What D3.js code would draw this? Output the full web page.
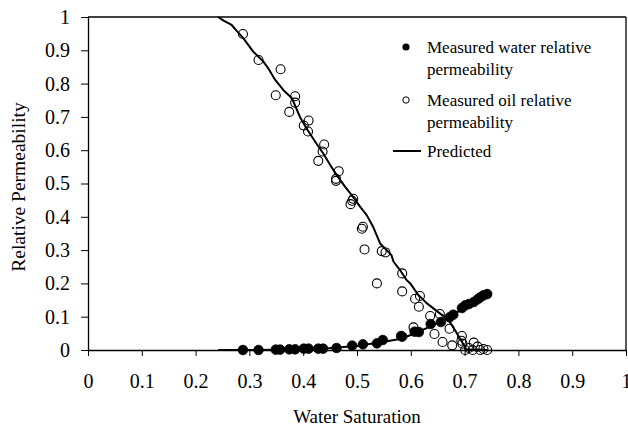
<!DOCTYPE html>
<html>
<head>
<meta charset="utf-8">
<script src="https://cdn.jsdelivr.net/npm/d3@7"></script>
<style>
  html, body { margin: 0; padding: 0; background: #fff; }
  svg { display: block; }
  text { font-family: "Liberation Serif", "Times New Roman", serif; fill: #000; }
</style>
</head>
<body>
<svg id="chart" width="628" height="428"></svg>
<script>
// ---- data ----
const xTicks = [0, 0.1, 0.2, 0.3, 0.4, 0.5, 0.6, 0.7, 0.8, 0.9, 1];
const yTicks = [0, 0.1, 0.2, 0.3, 0.4, 0.5, 0.6, 0.7, 0.8, 0.9, 1];

const waterSw = [0.288, 0.317, 0.349, 0.357, 0.374, 0.385, 0.401, 0.410, 0.428, 0.437, 0.462, 0.491, 0.511, 0.537, 0.548, 0.582, 0.584, 0.607, 0.615, 0.637, 0.656, 0.672, 0.679, 0.695, 0.701, 0.708, 0.717, 0.724, 0.729, 0.735, 0.742];
const waterKr = [0.000, 0.000, 0.001, 0.001, 0.002, 0.002, 0.004, 0.004, 0.004, 0.004, 0.006, 0.013, 0.017, 0.020, 0.030, 0.042, 0.040, 0.055, 0.054, 0.078, 0.084, 0.098, 0.106, 0.126, 0.134, 0.138, 0.144, 0.152, 0.158, 0.164, 0.168];

const oilSw = [0.288, 0.317, 0.358, 0.349, 0.385, 0.385, 0.374, 0.410, 0.401, 0.409, 0.439, 0.436, 0.428, 0.466, 0.461, 0.461, 0.493, 0.488, 0.491, 0.511, 0.509, 0.514, 0.546, 0.553, 0.537, 0.584, 0.584, 0.617, 0.608, 0.615, 0.636, 0.654, 0.605, 0.644, 0.672, 0.659, 0.677, 0.695, 0.694, 0.696, 0.701, 0.708, 0.717, 0.715, 0.724, 0.729, 0.735, 0.742];
const oilKr = [0.949, 0.871, 0.843, 0.765, 0.762, 0.743, 0.715, 0.689, 0.674, 0.656, 0.617, 0.596, 0.568, 0.537, 0.514, 0.508, 0.454, 0.438, 0.448, 0.370, 0.364, 0.302, 0.297, 0.293, 0.200, 0.230, 0.176, 0.162, 0.154, 0.130, 0.102, 0.108, 0.068, 0.048, 0.064, 0.024, 0.014, 0.042, 0.028, 0.019, 0.000, 0.006, 0.022, 0.000, 0.010, 0.000, 0.003, 0.000];

const predOilSw = [0.242, 0.252, 0.267, 0.276, 0.289, 0.307, 0.326, 0.335, 0.348, 0.363, 0.379, 0.394, 0.406, 0.422, 0.437, 0.450, 0.462, 0.478, 0.493, 0.506, 0.518, 0.530, 0.543, 0.555, 0.564, 0.568, 0.580, 0.592, 0.599, 0.614, 0.630, 0.654, 0.670, 0.682, 0.695, 0.703, 0.742];
const predOilKr = [1.000, 0.989, 0.976, 0.959, 0.936, 0.896, 0.866, 0.846, 0.811, 0.781, 0.756, 0.700, 0.666, 0.626, 0.591, 0.556, 0.526, 0.490, 0.459, 0.430, 0.405, 0.370, 0.320, 0.300, 0.285, 0.265, 0.240, 0.210, 0.200, 0.165, 0.140, 0.110, 0.090, 0.060, 0.025, 0.002, 0.000];

const predWaterSw = [0.242, 0.300, 0.350, 0.400, 0.450, 0.500, 0.550, 0.580, 0.600, 0.636, 0.673, 0.698, 0.722, 0.742];
const predWaterKr = [0.000, 0.000, 0.001, 0.003, 0.006, 0.012, 0.025, 0.033, 0.045, 0.070, 0.100, 0.125, 0.152, 0.170];

const legendLabels = [["Measured water relative", "permeability"], ["Measured oil relative", "permeability"], ["Predicted"]];

// ---- layout ----
const svg = d3.select("#chart");
const pLeft = 88, pRight = 626, pTop = 17, pBottom = 350;
const x = d3.scaleLinear().domain([0, 1]).range([pLeft, pRight]);
const y = d3.scaleLinear().domain([0, 1]).range([pBottom, pTop]);

// frame (top & right)
svg.append("line").attr("x1", pLeft).attr("x2", pRight).attr("y1", pTop).attr("y2", pTop)
  .attr("stroke", "#000").attr("stroke-width", 1.3);
svg.append("line").attr("x1", pRight).attr("x2", pRight).attr("y1", pTop).attr("y2", pBottom)
  .attr("stroke", "#000").attr("stroke-width", 1.3);

// axes
const xAxis = svg.append("g").attr("transform", `translate(0,${pBottom})`)
  .call(d3.axisBottom(x).tickValues(xTicks).tickSize(6).tickSizeOuter(0).tickPadding(18)
    .tickFormat(d => d3.format("")(d)));
const yAxis = svg.append("g").attr("transform", `translate(${pLeft},0)`)
  .call(d3.axisLeft(y).tickValues(yTicks).tickSize(7).tickSizeOuter(0).tickPadding(11)
    .tickFormat(d => d3.format("")(d)));
[xAxis, yAxis].forEach(g => {
  g.attr("font-size", null).attr("font-family", null);
  g.select(".domain").attr("stroke", "#000").attr("stroke-width", 1.3);
  g.selectAll(".tick line").attr("stroke", "#000").attr("stroke-width", 1);
  g.selectAll(".tick text").style("font-size", "20px")
    .style("font-family", "'Liberation Serif', 'Times New Roman', serif").attr("fill", "#000");
});

// axis titles
svg.append("text").attr("x", (pLeft + pRight) / 2).attr("y", 423).attr("text-anchor", "middle")
  .style("font-size", "19px").text("Water Saturation");
svg.append("text").attr("transform", `translate(25,187) rotate(-90)`)
  .attr("text-anchor", "middle").style("font-size", "19.5px").text("Relative Permeability");

// predicted lines
const line = d3.line().x(d => x(d[0])).y(d => y(d[1])).curve(d3.curveLinear);
const predOil = predOilSw.map((s, i) => [s, predOilKr[i]]);
const predWater = predWaterSw.map((s, i) => [s, predWaterKr[i]]);
[predOil, predWater].forEach(p => {
  svg.append("path").datum(p).attr("d", line).attr("fill", "none")
    .attr("stroke", "#000").attr("stroke-width", 2).attr("stroke-linejoin", "round");
});

// measured points
const oilPts = oilSw.map((s, i) => [s, oilKr[i]]);
const waterPts = waterSw.map((s, i) => [s, waterKr[i]]);
svg.append("g").selectAll("circle").data(oilPts).join("circle")
  .attr("cx", d => x(d[0])).attr("cy", d => y(d[1])).attr("r", 4.5)
  .attr("fill", "none").attr("stroke", "#000").attr("stroke-width", 1.1);
svg.append("g").selectAll("circle").data(waterPts).join("circle")
  .attr("cx", d => x(d[0])).attr("cy", d => y(d[1])).attr("r", 4.8)
  .attr("fill", "#000").attr("stroke", "#000").attr("stroke-width", 0.8);

// legend
const lg = svg.append("g");
lg.append("circle").attr("cx", 406).attr("cy", 47).attr("r", 3.6).attr("fill", "#000");
lg.append("circle").attr("cx", 406).attr("cy", 100).attr("r", 3.2).attr("fill", "none").attr("stroke", "#000").attr("stroke-width", 1);
lg.append("line").attr("x1", 393).attr("x2", 421).attr("y1", 151).attr("y2", 151).attr("stroke", "#000").attr("stroke-width", 2);
const baselines = [[53, 75], [106, 128], [157]];
legendLabels.forEach((lines, i) => {
  lines.forEach((t, j) => {
    lg.append("text").attr("x", 427).attr("y", baselines[i][j]).style("font-size", "17px").text(t);
  });
});
</script>
</body>
</html>
